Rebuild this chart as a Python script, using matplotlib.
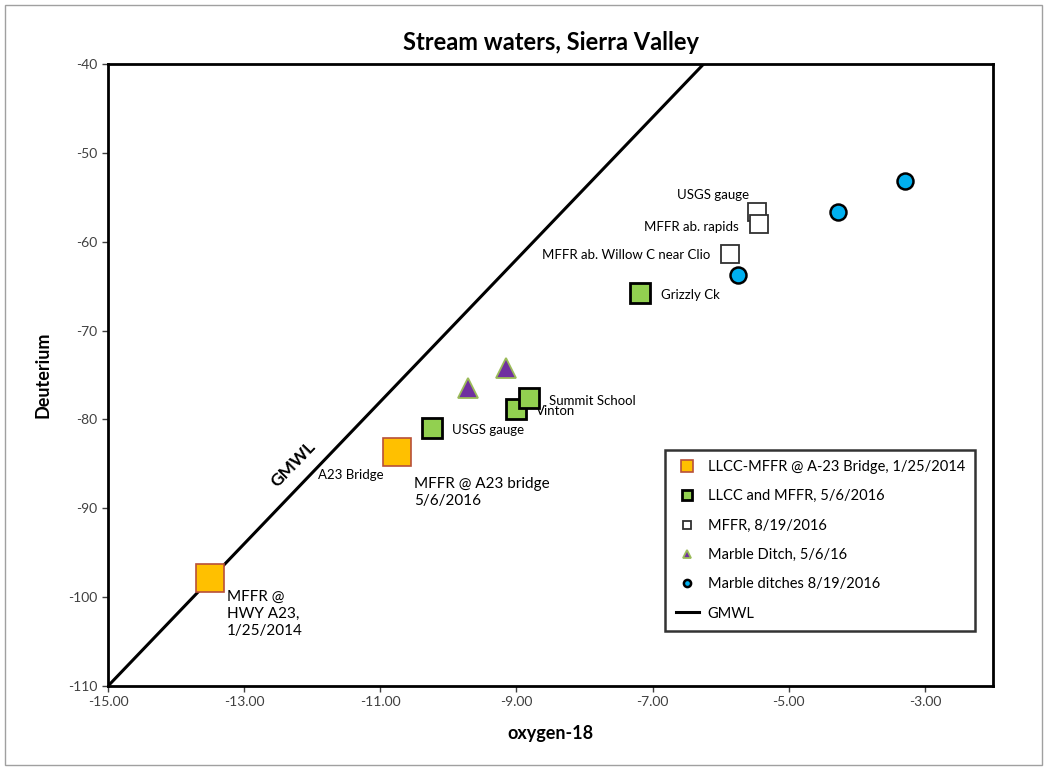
import matplotlib
matplotlib.use("Agg")
import matplotlib.pyplot as plt

plt.rcParams['font.family'] = ['Lato', 'DejaVu Sans']
plt.rcParams['axes.unicode_minus'] = False  # hyphen minus like the reference

# data (oxygen-18, deuterium)
jan2014_o18 = [-13.50, -10.76]
jan2014_dd = [-97.8, -83.7]
may2016_o18 = [-10.24, -9.01, -8.81, -7.19]
may2016_dd = [-81.0, -78.8, -77.6, -65.8]
aug2016_o18 = [-5.47, -5.44, -5.87]
aug2016_dd = [-56.7, -58.0, -61.4]
ditch2016_o18 = [-9.71, -9.15]
ditch2016_dd = [-76.5, -74.2]
ditches_aug_o18 = [-3.29, -4.28, -5.74]
ditches_aug_dd = [-53.2, -56.7, -63.7]
gmwl_o18 = [-15.0, -6.25]
gmwl_dd = [8 * v + 10 for v in gmwl_o18]

x_ticks = [-15, -13, -11, -9, -7, -5, -3]
y_ticks = [-40, -50, -60, -70, -80, -90, -100, -110]

fig = plt.figure(figsize=(10.47, 7.68), dpi=100)
ax = fig.add_axes([0.1032, 0.1068, 0.8452, 0.8099])

ax.plot(jan2014_o18, jan2014_dd, 's', ms=20, mfc='#FFC000', mec='#B8503A', mew=1.2,
        label='LLCC-MFFR @ A-23 Bridge, 1/25/2014', zorder=4)
ax.plot(may2016_o18, may2016_dd, 's', ms=14.5, mfc='#92D050', mec='black', mew=2,
        label='LLCC and MFFR, 5/6/2016', zorder=4)
ax.plot(aug2016_o18, aug2016_dd, 's', ms=13, mfc='white', mec='#303030', mew=1.3,
        label='MFFR, 8/19/2016', zorder=4)
ax.plot(ditch2016_o18, ditch2016_dd, '^', ms=14, mfc='#7030A0', mec='#9BBB59', mew=1.3,
        label='Marble Ditch, 5/6/16', zorder=4)
ax.plot(ditches_aug_o18, ditches_aug_dd, 'o', ms=11.5, mfc='#00B0F0', mec='black', mew=1.8,
        label='Marble ditches 8/19/2016', zorder=4)
ax.plot(gmwl_o18, gmwl_dd, '-', color='black', lw=2.2, label='GMWL', zorder=3)

ax.text(-12.28, -85.0, 'GMWL', rotation=46, fontsize=12.5, fontweight='bold',
        ha='center', va='center')

small = 9.5
big = 11
ax.text(-13.25, -99.2, 'MFFR @\nHWY A23,\n1/25/2014', fontsize=big, va='top', ha='left',
        linespacing=1.25)
ax.text(-10.5, -86.5, 'MFFR @ A23 bridge\n5/6/2016', fontsize=big, va='top', ha='left',
        linespacing=1.25)
ax.text(-11.43, -86.3, 'A23 Bridge', fontsize=small, va='center', ha='center')
ax.text(-9.94, -81.2, 'USGS gauge', fontsize=small, va='center', ha='left')
ax.text(-8.72, -79.1, 'Vinton', fontsize=small, va='center', ha='left')
ax.text(-8.52, -77.9, 'Summit School', fontsize=small, va='center', ha='left')
ax.text(-6.88, -66.0, 'Grizzly Ck', fontsize=small, va='center', ha='left')
ax.text(-6.15, -61.5, 'MFFR ab. Willow C near Clio', fontsize=small, va='center', ha='right')
ax.text(-5.74, -58.3, 'MFFR ab. rapids', fontsize=small, va='center', ha='right')
ax.text(-5.58, -54.8, 'USGS gauge', fontsize=small, va='center', ha='right')

ax.set_xlim(-15, -2)
ax.set_ylim(-110, -40)
ax.set_xticks(x_ticks)
ax.set_xticklabels([f'{v:.2f}' for v in x_ticks])
ax.set_yticks(y_ticks)
ax.tick_params(labelsize=10, colors='#404040', length=4, width=1)
for s in ax.spines.values():
    s.set_linewidth(2)
    s.set_color('black')

ax.set_xlabel('oxygen-18', fontsize=13, fontweight='bold', labelpad=12)
ax.set_ylabel('Deuterium', fontsize=13, fontweight='bold', labelpad=12)
ax.set_title('Stream waters, Sierra Valley', fontsize=17, fontweight='bold', pad=10)

leg = ax.legend(loc='lower right', bbox_to_anchor=(0.988, 0.077), fontsize=10.5,
                markerscale=0.45, frameon=True, fancybox=False, borderpad=0.7,
                labelspacing=1.05, handlelength=1.6, handletextpad=0.6)
leg.get_frame().set_edgecolor('black')
leg.get_frame().set_linewidth(1.8)

fig.patches.append(plt.Rectangle((0.005, 0.004), 0.99, 0.99, transform=fig.transFigure,
                                 fill=False, edgecolor='#A0A0A0', lw=1))

fig.savefig('out.png', dpi=100)
